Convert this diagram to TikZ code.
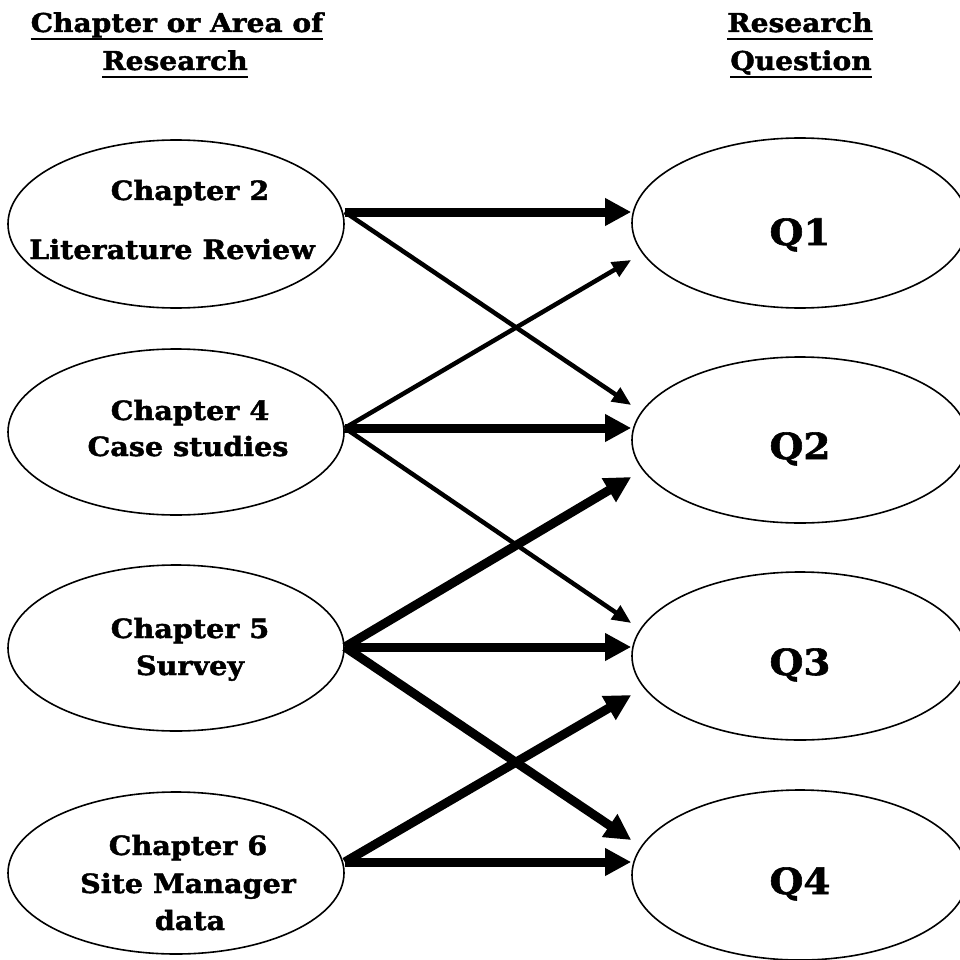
\documentclass[tikz,border=0pt]{standalone}
\usepackage{fontspec}
\setmainfont{DejaVu Serif}[BoldFeatures={FakeBold=1.6,FakeStretch=1.08}]
\usetikzlibrary{arrows.meta,shapes.geometric}

\begin{document}
\begin{tikzpicture}[x=1pt,y=-1pt,
  chapnode/.style={ellipse, draw, line width=1.6pt, minimum width=336pt, inner sep=0pt},
  qnode/.style={ellipse, draw, line width=1.6pt, minimum width=336pt, inner sep=0pt},
  lbl/.style={font=\fontsize{26.5}{30}\selectfont\bfseries, inner sep=0pt, anchor=base},
  qlbl/.style={font=\fontsize{36}{40}\selectfont\bfseries, inner sep=0pt, anchor=base},
  headtxt/.style={font=\fontsize{26}{30}\selectfont\bfseries, inner sep=0pt, anchor=base},
  ulline/.style={line width=2.6pt},
  linkthin/.style={line width=4.5pt, -{Triangle[length=19pt,width=16pt]}},
  linkthick/.style={line width=9pt, -{Triangle[length=26pt,width=26pt]}},
]
\useasboundingbox (0,0) rectangle (959,960);
\fill[white] (0,0) rectangle (959,960);

% column headings
\node[headtxt] (h1) at (177,32) {Chapter or Area of};
\node[headtxt] (h2) at (175,70) {Research};
\node[headtxt] (h3) at (800,32) {Research};
\node[headtxt] (h4) at (801,70) {Question};
\foreach \h in {h1,h2,h3,h4}
  \draw[ulline] ([yshift=-7pt]\h.base west) -- ([yshift=-7pt]\h.base east);

% sources (chapters)
\node[chapnode, minimum height=168pt] (e1) at (176,224) {};
\node[chapnode, minimum height=166pt] (e2) at (176,432) {};
\node[chapnode, minimum height=166pt] (e3) at (176,648) {};
\node[chapnode, minimum height=162pt] (e4) at (176,873) {};

\node[lbl] (e1a) at (190,200) {Chapter 2};
\node[lbl] (e1b) at (172,259) {Literature Review};
\node[lbl] (e2a) at (190,420) {Chapter 4};
\node[lbl] (e2b) at (188,456) {Case studies};
\node[lbl] (e3a) at (190,638) {Chapter 5};
\node[lbl] (e3b) at (190,675) {Survey};
\node[lbl] (e4a) at (188,855) {Chapter 6};
\node[lbl] (e4b) at (188,893) {Site Manager};
\node[lbl] (e4c) at (190,930) {data};

% research questions
\node[qnode, minimum height=170pt] (q1) at (800,223) {};
\node[qnode, minimum height=166pt] (q2) at (800,440) {};
\node[qnode, minimum height=168pt] (q3) at (800,656) {};
\node[qnode, minimum height=170pt] (q4) at (800,875) {};

\node[qlbl] (q1t) at (800,245) {Q1};
\node[qlbl] (q2t) at (800,459) {Q2};
\node[qlbl] (q3t) at (800,675) {Q3};
\node[qlbl] (q4t) at (800,894) {Q4};

% start points on the chapter ellipses
\coordinate (s1) at ([yshift=12pt]e1.east);
\coordinate (s2) at ([yshift=4pt]e2.east);
\coordinate (s3) at ([yshift=1pt]e3.east);
\coordinate (s4) at ([yshift=11pt]e4.east);

% links
\draw[linkthick] (s1) -- (s1 -| q1.west);
\draw[linkthin]  (s1) -- ([yshift=35pt]q2.west);
\draw[linkthin]  (s2) -- ([yshift=-37pt]q1.west);
\draw[linkthick] (s2) -- (s2 -| q2.west);
\draw[linkthin]  (s2) -- ([yshift=33pt]q3.west);
\draw[linkthick] (s3) -- ([yshift=-37pt]q2.west);
\draw[linkthick] (s3) -- (s3 -| q3.west);
\draw[linkthick] (s3) -- ([yshift=35pt]q4.west);
\draw[linkthick] (s4) -- ([yshift=-39pt]q3.west);
\draw[linkthick] (s4) -- (s4 -| q4.west);
\end{tikzpicture}
\end{document}
